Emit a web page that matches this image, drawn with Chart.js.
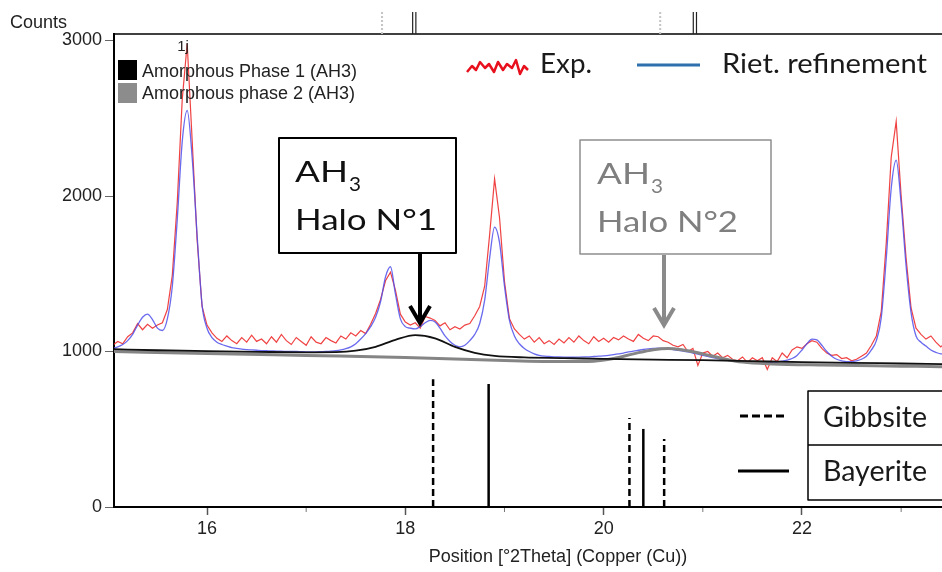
<!DOCTYPE html>
<html>
<head>
<meta charset="utf-8">
<title>AH3 amorphous halos - XRD</title>
<script src="https://cdn.jsdelivr.net/npm/chart.js@4.4.1/dist/chart.umd.min.js"></script>
<style>
  html, body { margin: 0; padding: 0; background: #fff; }
  #wrap { width: 942px; height: 572px; }
</style>
</head>
<body>
<div id="wrap"><canvas id="xrd" width="942" height="572"></canvas></div>
<script>
// scan grid (°2Theta)
const scanStart = 15.05;
const scanStep = 0.05;

// measured counts, one value per scan step
const expCounts = [
  1040, 1065, 1050, 1095, 1120, 1180, 1140, 1175, 1150, 1170,
  1185, 1270, 1490, 1960, 2620, 2980, 2360, 1720, 1290, 1170,
  1120, 1085, 1065, 1100, 1070, 1050, 1090, 1060, 1105, 1065,
  1080, 1050, 1095, 1060, 1110, 1070, 1045, 1090, 1065, 1040,
  1095, 1060, 1050, 1090, 1070, 1055, 1100, 1080, 1120, 1100,
  1135, 1115, 1175, 1245, 1335, 1455, 1510, 1395, 1240, 1190,
  1170, 1185, 1150, 1225, 1215, 1200, 1165, 1185, 1140, 1160,
  1145, 1170, 1180, 1230, 1290, 1420, 1750, 2110, 1860, 1450,
  1210, 1145, 1110, 1080, 1100, 1060, 1090, 1050, 1070, 1045,
  1080, 1055, 1090, 1060, 1100, 1070, 1050, 1095, 1065, 1085,
  1060, 1090, 1075, 1100, 1080, 1065, 1110, 1085, 1070, 1100,
  1095, 1070, 1060, 1040, 1030, 1045, 1000, 1020, 910, 990,
  1000, 970, 990, 960, 975, 950, 940, 965, 930, 960,
  940, 960, 885, 960, 935, 990, 960, 1010, 1030, 1020,
  1050, 1070, 1060, 1020, 990, 975, 980, 955, 960, 940,
  950, 970, 990, 1040, 1100, 1260, 1700, 2250, 2480, 2000,
  1600, 1280, 1150, 1110, 1080, 1100, 1060, 1030, 1060
];

// Rietveld calculated profile, same grid
const rietCounts = [
  1020, 1030, 1045, 1070, 1110, 1170, 1220, 1240, 1205, 1150,
  1135, 1210, 1420, 1850, 2350, 2550, 2250, 1750, 1300, 1150,
  1090, 1060, 1045, 1035, 1025, 1020, 1015, 1012, 1010, 1008,
  1006, 1005, 1004, 1003, 1002, 1001, 1000, 1000, 999, 998,
  998, 998, 999, 1000, 1002, 1005, 1010, 1018, 1030, 1050,
  1080, 1115, 1160, 1220, 1320, 1480, 1545, 1370, 1210, 1160,
  1150, 1145, 1160, 1185, 1200, 1190, 1150, 1100, 1065, 1040,
  1030, 1040, 1070, 1110, 1180, 1330, 1600, 1800, 1700, 1420,
  1200, 1100, 1050, 1020, 1000, 985, 975, 970, 968, 966,
  965, 964, 963, 963, 964, 965, 966, 968, 970, 972,
  975, 980, 985, 990, 997, 1003, 1008, 1013, 1017, 1020,
  1022, 1020, 1017, 1013, 1008, 1003, 997, 990, 983, 975,
  968, 961, 955, 950, 946, 942, 939, 936, 934, 932,
  931, 930, 930, 931, 933, 938, 945, 955, 975, 1010,
  1050, 1080, 1075, 1040, 1000, 970, 950, 940, 935, 935,
  940, 950, 970, 1010, 1070, 1220, 1600, 2050, 2230, 1950,
  1550, 1250, 1100, 1060, 1035, 1010, 995, 985, 985
];

// amorphous phase 1 (halo N°1)
const amorph1Theta = [15.05, 15.5, 16.0, 16.5, 17.0, 17.3, 17.5, 17.7, 17.9, 18.1, 18.3, 18.5, 18.7, 18.9, 19.2, 19.6, 20.0, 20.5, 21.0, 21.5, 22.0, 22.5, 23.0, 23.45];
const amorph1Counts = [1015, 1008, 1002, 998, 995, 996, 1005, 1030, 1075, 1105, 1085, 1030, 992, 972, 962, 958, 952, 948, 944, 938, 932, 927, 923, 919];

// amorphous phase 2 (halo N°2)
const amorph2Theta = [15.05, 16.0, 17.0, 18.0, 18.5, 19.0, 19.6, 19.9, 20.1, 20.3, 20.5, 20.65, 20.8, 21.0, 21.2, 21.4, 21.7, 22.2, 23.0, 23.45];
const amorph2Counts = [1000, 988, 975, 962, 952, 942, 935, 938, 955, 985, 1012, 1020, 1010, 985, 955, 932, 920, 913, 906, 902];

// reference patterns
const gibbsitePos = [18.28, 20.26, 20.61];
const gibbsiteInt = [822, 572, 437];
const bayeritePos = [18.84, 20.40];
const bayeriteInt = [791, 502];

// reference markers above the plot
const topMarkGray = [17.765, 20.57];
const topMarkBlack = [18.09, 20.92];

const xMin = 15.062, xMax = 23.412;
const yMax = 3042;
const xTickValues = [16, 17, 18, 19, 20, 21, 22, 23];
const yTickValues = [0, 1000, 2000, 3000];

const axisFont = '"Liberation Sans", Arial, sans-serif';
const boxFont = 'Lato, "Open Sans", sans-serif';

const toXY = (xs, ys) => xs.map((x, i) => ({ x: x, y: ys[i] }));
const scanTheta = expCounts.map((_, i) => +(scanStart + i * scanStep).toFixed(2));

const datasets = [
    { label: 'Exp.', data: toXY(scanTheta, expCounts), borderColor: 'rgba(238,45,45,0.9)', borderWidth: 1.2, tension: 0, order: 5 },
    { label: 'Riet. refinement', data: toXY(scanTheta, rietCounts), borderColor: 'rgba(80,80,235,0.85)', borderWidth: 1.3, cubicInterpolationMode: 'monotone', order: 4 },
    { label: 'Amorphous phase 2 (AH3)', data: toXY(amorph2Theta, amorph2Counts), borderColor: '#858585', borderWidth: 3, cubicInterpolationMode: 'monotone', order: 3 },
    { label: 'Amorphous Phase 1 (AH3)', data: toXY(amorph1Theta, amorph1Counts), borderColor: '#111', borderWidth: 1.8, cubicInterpolationMode: 'monotone', order: 2 }
];

gibbsitePos.forEach((p, i) => {
    datasets.push({ label: 'Gibbsite', data: [{ x: p, y: 0 }, { x: p, y: gibbsiteInt[i] }], borderColor: '#000', borderWidth: 2.5, borderDash: [7, 4], order: 1 });
});
bayeritePos.forEach((p, i) => {
    datasets.push({ label: 'Bayerite', data: [{ x: p, y: 0 }, { x: p, y: bayeriteInt[i] }], borderColor: '#000', borderWidth: 2.5, order: 1 });
});

// stretch a text horizontally so it fills the given width
function fitText(ctx, txt, x, y, w) {
    const m = ctx.measureText(txt).width;
    ctx.save();
    ctx.translate(x, y);
    ctx.scale(w / m, 1);
    ctx.fillText(txt, 0, 0);
    ctx.restore();
}

function drawArrow(ctx, x, y0, y1, color) {
    ctx.save();
    ctx.strokeStyle = color;
    ctx.lineWidth = 4;
    ctx.beginPath(); ctx.moveTo(x, y0); ctx.lineTo(x, y1 - 2); ctx.stroke();
    ctx.lineJoin = 'miter';
    ctx.beginPath(); ctx.moveTo(x - 10, y1 - 19); ctx.lineTo(x, y1 - 2); ctx.lineTo(x + 10, y1 - 19); ctx.stroke();
    ctx.restore();
}

const decorations = {
    id: 'decorations',
    afterDraw(chart) {
        const ctx = chart.ctx;
        const xs = chart.scales.x;
        const ca = chart.chartArea;
        ctx.save();
        ctx.textAlign = 'left';
        ctx.textBaseline = 'alphabetic';

        // top frame line
        ctx.strokeStyle = '#000';
        ctx.lineWidth = 1.5;
        ctx.beginPath(); ctx.moveTo(ca.left, ca.top); ctx.lineTo(ca.right, ca.top); ctx.stroke();

        // reference markers above the frame
        topMarkGray.forEach(v => {
            const px = xs.getPixelForValue(v);
            ctx.strokeStyle = '#c4c4c4'; ctx.lineWidth = 2; ctx.setLineDash([2, 2]);
            ctx.beginPath(); ctx.moveTo(px, 12); ctx.lineTo(px, ca.top); ctx.stroke();
        });
        ctx.setLineDash([]);
        topMarkBlack.forEach(v => {
            const px = xs.getPixelForValue(v);
            ctx.strokeStyle = '#222'; ctx.lineWidth = 1.2;
            [-1.6, 1.6].forEach(d => {
                ctx.beginPath(); ctx.moveTo(px + d, 12); ctx.lineTo(px + d, ca.top); ctx.stroke();
            });
        });

        // minor x ticks
        ctx.strokeStyle = '#777'; ctx.lineWidth = 1;
        xTickValues.filter(v => v % 2 !== 0).forEach(v => {
            const px = xs.getPixelForValue(v);
            ctx.beginPath(); ctx.moveTo(px, ca.bottom + 1); ctx.lineTo(px, ca.bottom + 5); ctx.stroke();
        });

        // axis texts
        ctx.fillStyle = '#222';
        ctx.font = '18px ' + axisFont;
        ctx.fillText('Counts', 10, 28);
        ctx.textAlign = 'center';
        ctx.fillText('Position [°2Theta] (Copper (Cu))', 558, 562);
        ctx.font = '15px ' + axisFont;
        ctx.fillText('1j', 183, 51);
        ctx.textAlign = 'left';

        // phase legend (top left)
        ctx.fillStyle = '#000';
        ctx.fillRect(118, 60, 19, 20);
        ctx.fillStyle = '#8c8c8c';
        ctx.fillRect(118, 83, 19, 20);
        ctx.fillStyle = '#222';
        ctx.font = '18px ' + axisFont;
        ctx.fillText('Amorphous Phase 1 (AH3)', 142, 77);
        ctx.fillText('Amorphous phase 2 (AH3)', 142, 99);

        // Exp. / Riet. legend (top right)
        const squiggle = [[0, 14], [5, 8], [9, 12], [13, 4], [18, 10], [22, 6], [27, 14], [31, 4], [36, 12], [40, 6], [45, 10], [49, 2], [53, 16], [57, 8], [61, 12]];
        ctx.strokeStyle = '#e8101c'; ctx.lineWidth = 2.5; ctx.lineJoin = 'round';
        ctx.beginPath();
        squiggle.forEach(([dx, dy], i) => (i ? ctx.lineTo(467 + dx, 58 + dy) : ctx.moveTo(467 + dx, 58 + dy)));
        ctx.stroke();
        ctx.strokeStyle = '#2e6fae'; ctx.lineWidth = 3;
        ctx.beginPath(); ctx.moveTo(637, 65); ctx.lineTo(700, 65); ctx.stroke();
        ctx.fillStyle = '#1a1a1a';
        ctx.font = '27px ' + boxFont;
        fitText(ctx, 'Exp.', 540, 73, 52);
        fitText(ctx, 'Riet. refinement', 722, 73, 205);

        // halo N°1 box
        ctx.fillStyle = '#fff';
        ctx.fillRect(279, 138, 177, 115);
        ctx.strokeStyle = '#000'; ctx.lineWidth = 2;
        ctx.strokeRect(279, 138, 177, 115);
        ctx.fillStyle = '#111';
        ctx.font = '29px ' + boxFont;
        fitText(ctx, 'AH', 295, 182, 53);
        fitText(ctx, 'Halo N°1', 295, 230, 142);
        ctx.font = '20px ' + boxFont;
        fitText(ctx, '3', 349, 191, 12);
        drawArrow(ctx, 420, 254, 325, '#000');

        // halo N°2 box
        ctx.fillStyle = '#fff';
        ctx.fillRect(580, 140, 191, 114);
        ctx.strokeStyle = '#8e8e8e'; ctx.lineWidth = 1.5;
        ctx.strokeRect(580, 140, 191, 114);
        ctx.fillStyle = '#7f7f7f';
        ctx.font = '29px ' + boxFont;
        fitText(ctx, 'AH', 597, 184, 53);
        fitText(ctx, 'Halo N°2', 597, 232, 141);
        ctx.font = '20px ' + boxFont;
        fitText(ctx, '3', 651, 193, 12);
        drawArrow(ctx, 664, 255, 327, '#8a8a8a');

        // reference pattern legend (bottom right)
        ctx.strokeStyle = '#000'; ctx.lineWidth = 1.5;
        ctx.beginPath();
        ctx.moveTo(950, 391); ctx.lineTo(808, 391); ctx.lineTo(808, 500); ctx.lineTo(950, 500);
        ctx.moveTo(808, 445); ctx.lineTo(950, 445);
        ctx.stroke();
        ctx.lineWidth = 3;
        ctx.setLineDash([8, 4]);
        ctx.beginPath(); ctx.moveTo(740, 416); ctx.lineTo(788, 416); ctx.stroke();
        ctx.setLineDash([]);
        ctx.beginPath(); ctx.moveTo(738, 471); ctx.lineTo(789, 471); ctx.stroke();
        ctx.fillStyle = '#1a1a1a';
        ctx.font = '28px ' + boxFont;
        fitText(ctx, 'Gibbsite', 823, 427, 104);
        fitText(ctx, 'Bayerite', 823, 481, 104);

        ctx.restore();
    }
};

new Chart(document.getElementById('xrd'), {
    type: 'line',
    data: { datasets: datasets },
    options: {
        responsive: false,
        animation: false,
        parsing: true,
        layout: { padding: { top: 34, left: 0, right: 0, bottom: 0 } },
        elements: { point: { radius: 0 }, line: { fill: false } },
        plugins: { legend: { display: false }, tooltip: { enabled: false } },
        scales: {
            x: {
                type: 'linear',
                min: xMin,
                max: xMax,
                afterBuildTicks: s => { s.ticks = xTickValues.map(v => ({ value: v })); },
                afterFit: s => { s.height = 65; },
                ticks: {
                    autoSkip: false,
                    maxRotation: 0,
                    padding: 3,
                    color: '#222',
                    font: { family: axisFont, size: 18 },
                    callback: v => (v % 2 === 0 ? String(v) : '')
                },
                grid: {
                    drawOnChartArea: false,
                    tickLength: 8,
                    tickWidth: 1.5,
                    tickColor: c => (c.tick && c.tick.value % 2 === 0 ? '#555' : 'rgba(0,0,0,0)')
                },
                border: { color: '#000', width: 2 }
            },
            y: {
                type: 'linear',
                min: 0,
                max: yMax,
                afterBuildTicks: s => { s.ticks = yTickValues.map(v => ({ value: v })); },
                afterFit: s => { s.width = 114; },
                ticks: {
                    padding: 3,
                    color: '#222',
                    font: { family: axisFont, size: 18 },
                    callback: v => String(v)
                },
                grid: { drawOnChartArea: false, tickLength: 9, tickWidth: 1, tickColor: '#666' },
                border: { color: '#000', width: 2 }
            }
        }
    },
    plugins: [decorations]
});
</script>
</body>
</html>
